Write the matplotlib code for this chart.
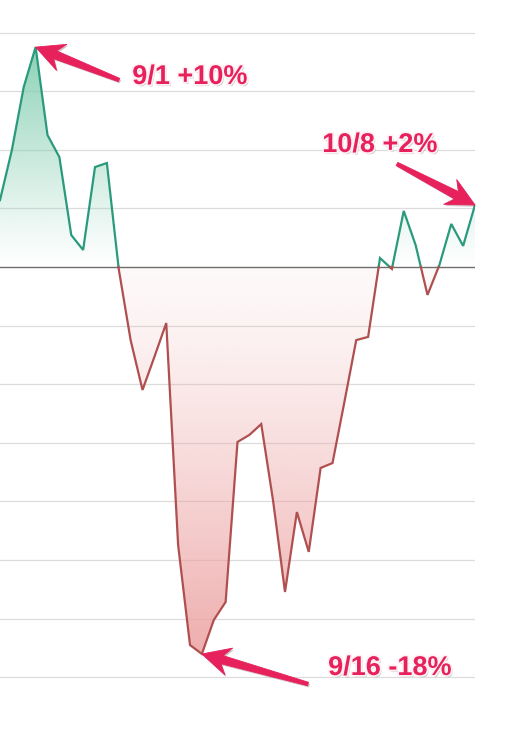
import numpy as np
import matplotlib
matplotlib.use("Agg")
import matplotlib.pyplot as plt
from matplotlib.patches import Polygon
from matplotlib.path import Path
import matplotlib.patheffects as pe

# ---- data (percent change, one point per day) ----
values = [3.14, 5.49, 8.45, 10.32, 6.19, 5.16, 1.50, 0.80, 4.69, 4.88,
          -0.10, -3.43, -5.77, -4.22, -2.63, -13.05, -17.74, -18.16, -16.57, -15.72,
          -8.21, -7.88, -7.37, -10.98, -15.25, -11.50, -13.37, -9.43, -9.20, -6.34,
          -3.43, -3.28, 0.42, -0.09, 2.63, 1.03, -1.31, 0.09, 2.02, 0.99, 2.91]
ann_labels = ["9/1 +10%", "10/8 +2%", "9/16 -18%"]
ann_index = [3, 40, 17]

GRID_STEP = 2.75
UP_LINE = "#2a9a7c"
DOWN_LINE = "#b04f4f"
PINK = "#e6215c"

v = np.array(values)
x = np.arange(len(v), dtype=float)

W, H = 506, 752
fig = plt.figure(figsize=(W / 100, H / 100), dpi=100)
ax = fig.add_axes([0, 0, 475 / W, 1])
ax.set_xlim(0, len(v) - 1)
ax.set_ylim(-22.76, 12.53)
for s in ax.spines.values():
    s.set_visible(False)
ax.set_xticks([])
ax.set_yticks([])

# grid lines
for k in range(-7, 5):
    if k == 0:
        continue
    ax.axhline(k * GRID_STEP, color="#dcdcdc", lw=0.9, zorder=0)
ax.axhline(0, color="#6e6e6e", lw=1.0, zorder=3)

# insert zero crossings
xs, ys = [x[0]], [v[0]]
for i in range(1, len(v)):
    a, b = v[i - 1], v[i]
    if (a >= 0) != (b >= 0):
        t = a / (a - b)
        xs.append(x[i - 1] + t)
        ys.append(0.0)
    xs.append(x[i])
    ys.append(v[i])
xs = np.array(xs)
ys = np.array(ys)

def merged(coll):
    return Path.make_compound_path(*coll.get_paths())

# gradient fills
up_poly = ax.fill_between(xs, ys, 0, where=ys >= 0, interpolate=True,
                          color="none", lw=0)
dn_poly = ax.fill_between(xs, ys, 0, where=ys <= 0, interpolate=True,
                          color="none", lw=0)

vmax, vmin = v.max(), v.min()
n = 256
t = np.linspace(0, 1, n)[:, None]
g_up = np.zeros((n, 2, 4))
g_up[..., :3] = matplotlib.colors.to_rgb("#86cfb3")
g_up[..., 3] = (t ** 1.1) * 0.95
im1 = ax.imshow(g_up, extent=[0, len(v) - 1, 0, vmax], origin="lower",
                aspect="auto", zorder=1, interpolation="bilinear")
im1.set_clip_path(merged(up_poly), transform=ax.transData)

g_dn = np.zeros((n, 2, 4))
g_dn[..., :3] = matplotlib.colors.to_rgb("#eca0a0")
g_dn[..., 3] = 0.06 + 0.80 * (t[::-1] ** 1.3)
im2 = ax.imshow(g_dn, extent=[0, len(v) - 1, vmin, 0], origin="lower",
                aspect="auto", zorder=1, interpolation="bilinear")
im2.set_clip_path(merged(dn_poly), transform=ax.transData)

# lines
up = np.where(ys >= 0, ys, np.nan)
dn = np.where(ys <= 0, ys, np.nan)
ax.plot(xs, up, color=UP_LINE, lw=1.6, zorder=4, solid_joinstyle="miter")
ax.plot(xs, dn, color=DOWN_LINE, lw=1.6, zorder=4, solid_joinstyle="miter")

# annotations (text centres and arrow tails in pixels from top-left)
text_pos = [(190, 77), (380, 145), (390, 668)]
tail_pos = [(119, 80), (397, 164), (308, 684)]
text_fx = [pe.withSimplePatchShadow(offset=(1.2, -1.5), shadow_rgbFace="#666666", alpha=0.35),
           pe.withStroke(linewidth=2.5, foreground="#fff0f4")]


def arrow_poly(tail, tip, L=28, HW=14, neck=4.2, tailw=1.8, notch=7):
    A = np.array(tail, float)
    T = np.array(tip, float)
    u = (T - A) / np.linalg.norm(T - A)
    nrm = np.array([-u[1], u[0]])
    pts = [A + nrm * tailw,
           T - u * (L - notch) + nrm * neck,
           T - u * L + nrm * HW,
           T,
           T - u * L - nrm * HW,
           T - u * (L - notch) - nrm * neck,
           A - nrm * tailw]
    return np.array(pts)


for lab, idx, tp, tl in zip(ann_labels, ann_index, text_pos, tail_pos):
    fig.text(tp[0] / W, 1 - tp[1] / H, lab, ha="center", va="center",
             fontsize=19.5, fontweight="bold", family="Liberation Sans",
             color=PINK, path_effects=text_fx, zorder=10)
    tip_disp = ax.transData.transform((x[idx], v[idx]))
    tail_disp = np.array([tl[0], H - tl[1]], float)
    pts = arrow_poly(tail_disp, tip_disp)
    pts_fig = pts / np.array([W, H])
    poly = Polygon(pts_fig, closed=True, transform=fig.transFigure,
                   facecolor=PINK, edgecolor=PINK, lw=0.6, joinstyle="round",
                   zorder=9,
                   path_effects=[pe.withSimplePatchShadow(offset=(1, -1.2), alpha=0.25)])
    fig.add_artist(poly)

fig.savefig("out.png", dpi=100, facecolor="white")
